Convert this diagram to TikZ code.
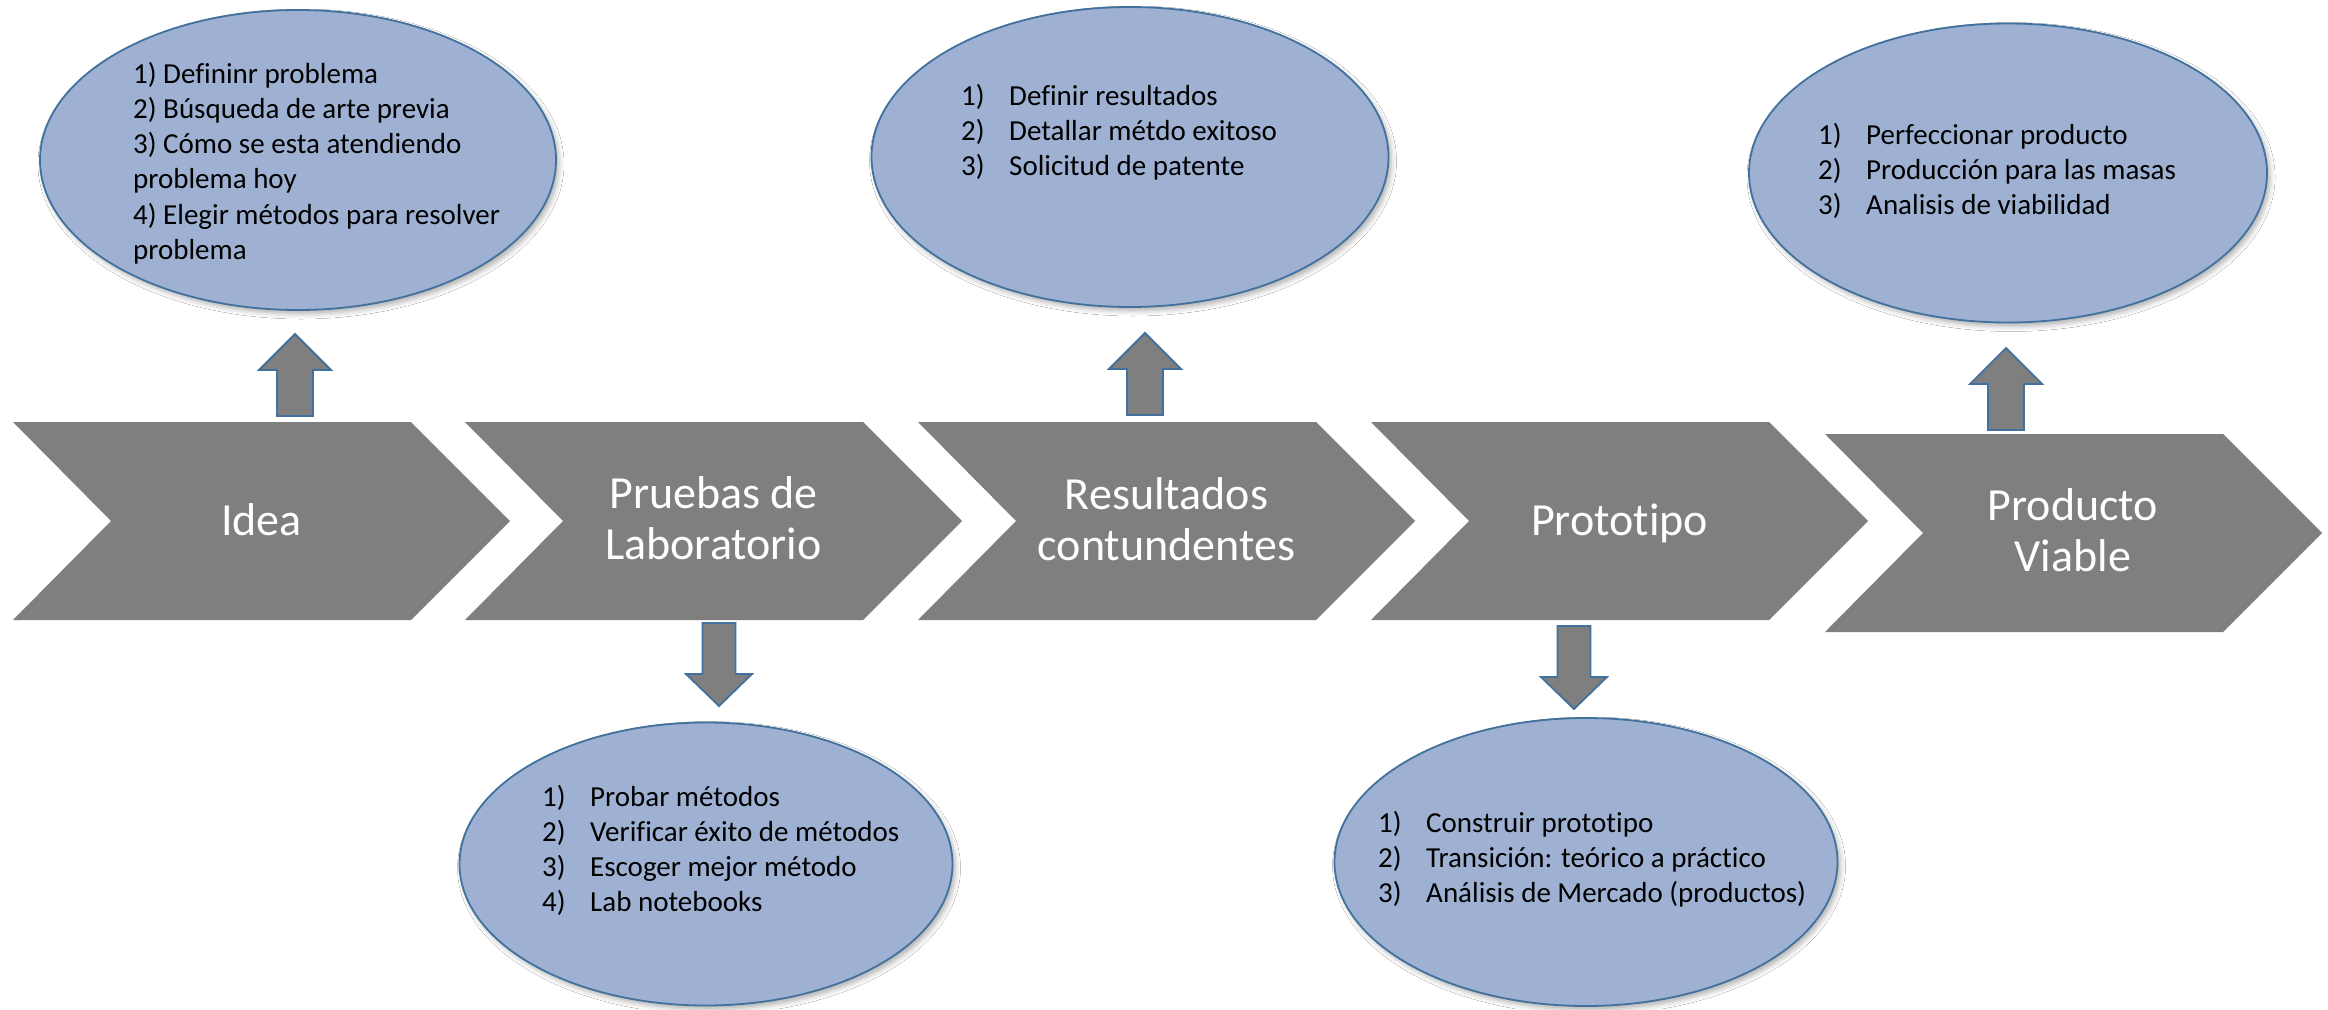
\documentclass[tikz,border=0pt]{standalone}
\usepackage{fontspec}
\setmainfont{Carlito}[Ligatures=CommonOff]
\usetikzlibrary{shapes.geometric,shadows.blur}
\definecolor{bubfill}{RGB}{158,177,210}
\definecolor{bubline}{RGB}{65,113,156}
\definecolor{chevgray}{RGB}{127,127,127}
\newcommand{\itm}[2]{\hbox{\makebox[48pt][l]{#1)}#2}}
\newcommand{\lns}[1]{\vtop{\baselineskip=35.3pt\lineskiplimit=-100pt #1}}
\newcommand{\twol}[2]{\vtop{\baselineskip=51pt\lineskiplimit=-100pt\halign{\hfil##\hfil\cr#1\cr#2\cr}}}
\tikzset{
  bub/.style={ellipse, fill=bubfill, draw=bubline, line width=1.8pt, inner sep=0pt,
    blur shadow={shadow xshift=3pt, shadow yshift=-4pt, shadow blur radius=5pt, shadow opacity=30}},
  bubtxt/.style={anchor=base west, inner sep=0pt, font=\fontsize{29}{35.3}\selectfont, text=black},
  chevtxt/.style={anchor=base, inner sep=0pt, font=\fontsize{46}{51}\selectfont, text=white},
  blk/.style={fill=chevgray, draw=bubline, line width=1.8pt, line join=miter},
  chev/.pic={\fill[chevgray] (0,0) -- (398,0) -- (497,99) -- (398,198) -- (0,198) -- (98,99) -- cycle;},
  upblk/.pic={\draw[blk] (-18,0) -- (-18,-46) -- (-36,-46) -- (0,-82) -- (36,-46) -- (18,-46) -- (18,0) -- cycle;},
  downblk/.pic={\draw[blk] (-16.5,0) -- (-16.5,51) -- (-33,51) -- (0,83) -- (33,51) -- (16.5,51) -- (16.5,0) -- cycle;}
}
\begin{document}
\begin{tikzpicture}[x=1pt,y=-1pt]
\useasboundingbox (0,0) rectangle (2328,1009);
\fill[white] (0,0) rectangle (2328,1009);

% chevrons
\pic (c1) at (13,422) {chev};
\pic (c2) at (465,422) {chev};
\pic (c3) at (918,422) {chev};
\pic (c4) at (1371,422) {chev};
\pic (c5) at (1825,434) {chev};
\node[chevtxt] (t1) at (261.5,535) {Idea};
\node[chevtxt] (t2) at (713.5,508) {\twol{Pruebas de}{Laboratorio}};
\node[chevtxt] (t3) at (1166.5,509) {\twol{Resultados}{contundentes}};
\node[chevtxt] (t4) at (1619.5,535) {Prototipo};
\node[chevtxt] (t5) at (2073,520) {\twol{Producto}{Viable}};

% block arrows
\pic (a1) at (295,416) {upblk};
\pic (a2) at (1145,415) {upblk};
\pic (a3) at (2006,430) {upblk};
\pic (a4) at (719,623) {downblk};
\pic (a5) at (1574,626) {downblk};

% ellipses
\node[bub, minimum width=516pt, minimum height=300pt] (e1) at (298,160) {};
\node[bub, minimum width=517pt, minimum height=300pt] (e2) at (1130,157) {};
\node[bub, minimum width=518pt, minimum height=299pt] (e3) at (2008,173) {};
\node[bub, minimum width=493pt, minimum height=283pt] (e4) at (706,864) {};
\node[bub, minimum width=503pt, minimum height=288pt] (e5) at (1586,862) {};

\node[bubtxt] (l1) at (133,83) {\lns{\hbox{1) Defininr problema}\hbox{2) Búsqueda de arte previa}\hbox{3) Cómo se esta atendiendo}\hbox{problema hoy}\hbox{4) Elegir métodos para resolver}\hbox{problema}}};
\node[bubtxt] (l2) at (961,105) {\lns{\itm{1}{Definir resultados}\itm{2}{Detallar métdo exitoso}\itm{3}{Solicitud de patente}}};
\node[bubtxt] (l3) at (1818,144) {\lns{\itm{1}{Perfeccionar producto}\itm{2}{Producción para las masas}\itm{3}{Analisis de viabilidad}}};
\node[bubtxt] (l4) at (542,806) {\lns{\itm{1}{Probar métodos}\itm{2}{Verificar éxito de métodos}\itm{3}{Escoger mejor método}\itm{4}{Lab notebooks}}};
\node[bubtxt] (l5) at (1378,832) {\lns{\itm{1}{Construir prototipo}\itm{2}{Transición: teórico a práctico}\itm{3}{Análisis de Mercado (productos)}}};
\end{tikzpicture}
\end{document}
